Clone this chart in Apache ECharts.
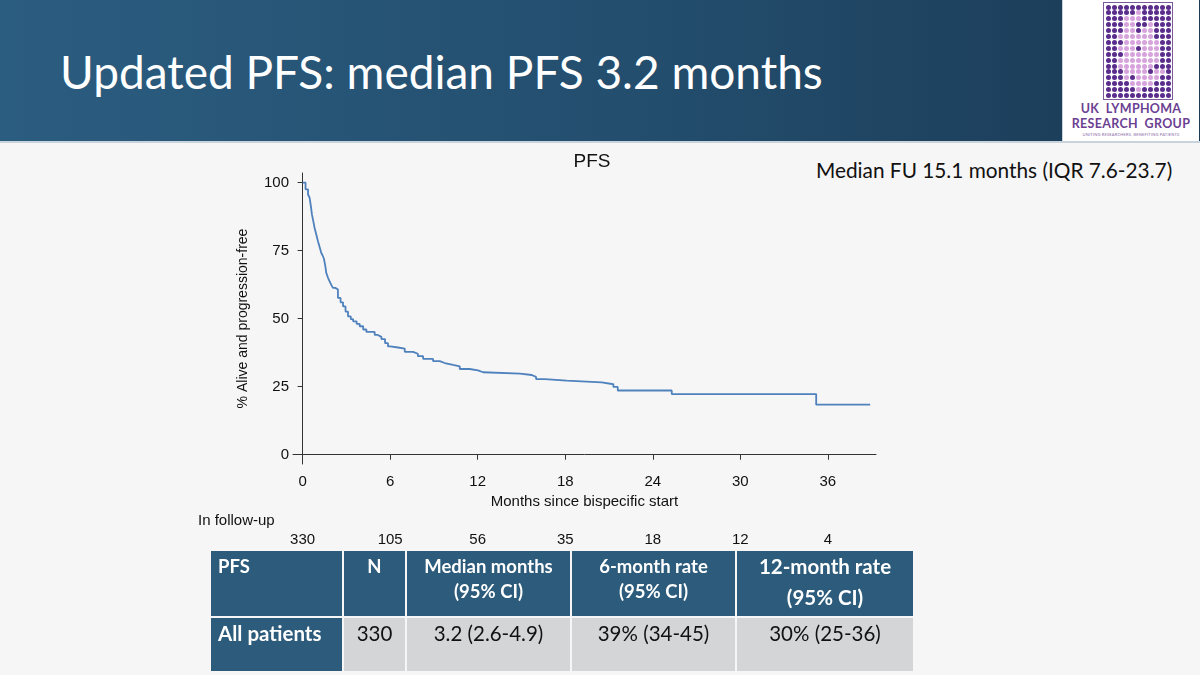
<!DOCTYPE html>
<html>
<head>
<meta charset="utf-8">
<script src="https://cdn.jsdelivr.net/npm/echarts@6/dist/echarts.min.js"></script>
<style>
  html, body { margin: 0; padding: 0; }
  body { width: 1200px; height: 675px; position: relative; overflow: hidden; background: #f6f6f6; font-family: Lato, "Open Sans", sans-serif; }
  #header { position: absolute; left: 0; top: 0; width: 1200px; height: 141px;
    background: linear-gradient(90deg, #2b5d80 0%, #234d6d 55%, #1a3a55 100%);
    border-bottom: 2px solid #c9d3db; }
  #header h1 { position: absolute; left: 60px; top: 43px; margin: 0; font-weight: 400; font-size: 46px; color: #fff; line-height: 58px; white-space: nowrap; }
  #logo { position: absolute; left: 1062px; top: 0; width: 136px; height: 141px; background: #fff; border-left: 1px solid #c9d3db; }
  #dots { position: absolute; left: 40px; top: 2px; width: 68px; height: 96px; border: 1px solid #7a5a9a; }
  #logo .t1, #logo .t2 { position: absolute; left: 0; width: 136px; text-align: center; color: #6b3f92; font-weight: 700; font-size: 12.5px; letter-spacing: 0.3px; }
  #logo .t1 { top: 101px; }
  #logo .t2 { top: 116px; }
  #logo .t3 { position: absolute; left: 0; top: 132px; width: 136px; text-align: center; color: #8a6aa8; font-size: 4px; letter-spacing: 0.2px; }
  #fu { position: absolute; left: 816px; top: 157px; font-size: 20.8px; color: #111; white-space: nowrap; }
  #chart { position: absolute; left: 0; top: 142px; width: 1200px; height: 410px; }
  #tbl { position: absolute; left: 209px; top: 549px; border-collapse: collapse; table-layout: fixed; width: 704px; }
  #tbl td { border: 2px solid #f6f6f6; padding: 0; overflow: hidden; white-space: nowrap; }
  #tbl tr.h td { background: #2c5b7b; color: #fff; font-weight: 700; font-size: 18.5px; height: 62px; vertical-align: top; text-align: center; line-height: 25px; padding-top: 3px; }
  #tbl tr.h td.big { font-size: 20.5px; line-height: 31px; padding-top: 0; }
  #tbl tr.d td { background: #d3d5d6; color: #111; font-size: 20.5px; height: 50px; vertical-align: top; text-align: center; padding-top: 3px; }
  #tbl tr.d td.first { background: #2c5b7b; color: #fff; font-weight: 700; }
  #tbl td.first { text-align: left !important; padding-left: 7px; }
</style>
</head>
<body>
<div id="header"><h1>Updated PFS: median PFS 3.2 months</h1></div>
<div id="logo">
  <div id="dots"></div>
  <div class="t1">UK&nbsp; LYMPHOMA</div>
  <div class="t2">RESEARCH&nbsp; GROUP</div>
  <div class="t3">UNITING RESEARCHERS, BENEFITING PATIENTS</div>
</div>
<div id="fu">Median FU 15.1 months (IQR 7.6-23.7)</div>
<div id="chart"></div>
<table id="tbl"></table>
<script>
// Kaplan-Meier PFS curve (months, % alive and progression-free)
var months = [0, 0.2, 0.37, 0.48, 0.56, 0.64, 0.73, 0.82, 0.94, 1.05, 1.17, 1.28, 1.37, 1.46, 1.55, 1.62,
  1.74, 1.85, 1.97, 2.08, 2.24, 2.42, 2.6, 2.77, 2.94, 3.11, 3.3, 3.46, 3.7, 3.91, 4.15, 4.37, 4.94,
  5.15, 5.4, 5.65, 5.85, 6.0, 6.54, 7.0, 7.57, 7.9, 8.26, 8.94, 9.4, 9.74, 10.31, 10.77, 11.45, 12.02,
  12.37, 14.9, 15.7, 16.0, 16.6, 18.1, 20.5, 21.3, 21.6, 25.3, 35.2, 38.9];
var pfs = [100, 97.5, 95.6, 94.4, 91.5, 88.2, 85.8, 83.3, 80.8, 78.4, 76.2, 74.1, 73.2, 72.0, 69.5, 66.8,
  65.0, 63.7, 62.3, 61.3, 60.7, 57.6, 56.0, 54.5, 52.6, 50.8, 49.8, 49.0, 48.1, 47.2, 46.0, 45.1, 44.0,
  43.3, 42.5, 41.0, 39.8, 39.4, 39.0, 37.8, 37.1, 36.2, 35.2, 34.4, 33.7, 33.0, 32.5, 31.5, 31.0, 30.3,
  29.8, 29.3, 28.6, 27.8, 27.2, 26.6, 25.9, 24.9, 23.6, 22.3, 18.4, 18.4];

var tickMonths = [0, 6, 12, 18, 24, 30, 36];
var atRisk = [330, 105, 56, 35, 18, 12, 4];
var yTicks = [0, 25, 50, 75, 100];

var tableHead = ['PFS', 'N', 'Median months<br>(95% CI)', '6-month rate<br>(95% CI)', '12-month rate<br>(95% CI)'];
var tableRow = ['All patients', '330', '3.2 (2.6-4.9)', '39% (34-45)', '30% (25-36)'];
var colWidths = [133, 63, 165, 165, 178];

// logo dot grid (decoration)
var dotRows = ['DDDDDDDDDDD', 'DDDDDLDDDDD', 'DDDLLLDDDDD', 'DDDLLDDLDDD', 'DDDLLDLLDDD', 'DDLLLLLLDDD',
  'DDDLLLLLLDD', 'DDLLLDLLLDD', 'DDDLLLLLLDD', 'DDLLLLLLLDD', 'DDLLLLLLDDD', 'DDDLLLLDLLD',
  'DDDLDLLLLDD', 'DDDDLLLLDDD', 'DDDDDLDDDDD', 'DDDDDDDDDDD'];
var dots = document.getElementById('dots');
dotRows.forEach(function (row, r) {
  for (var c = 0; c < row.length; c++) {
    var d = document.createElement('div');
    d.style.cssText = 'position:absolute;width:5px;height:5px;border-radius:50%;left:' + (1.5 + c * 6) +
      'px;top:' + (1.5 + r * 5.9) + 'px;background:' + (row[c] === 'D' ? '#5a2d8c' : '#d7a3dc');
    dots.appendChild(d);
  }
});

// table
var tbl = document.getElementById('tbl');
var h = '<colgroup>';
colWidths.forEach(function (w) { h += '<col style="width:' + w + 'px">'; });
h += '</colgroup><tr class="h">';
tableHead.forEach(function (t, i) {
  h += '<td' + (i === 0 ? ' class="first"' : (i === 4 ? ' class="big"' : '')) + '>' + t + '</td>';
});
h += '</tr><tr class="d">';
tableRow.forEach(function (t, i) {
  h += '<td' + (i === 0 ? ' class="first"' : '') + '>' + t + '</td>';
});
tbl.innerHTML = h + '</tr>';

var myChart = echarts.init(document.getElementById('chart'));
var font = 'Liberation Sans, Arial, sans-serif';
option = {
  animation: false,
  title: {
    text: 'PFS',
    left: 587,
    textAlign: 'center',
    top: 5,
    textStyle: { fontFamily: font, fontWeight: 'normal', fontSize: 19, color: '#111' }
  },
  graphic: [{
    type: 'text',
    left: 198,
    top: 371,
    style: { text: 'In follow-up', fontFamily: font, fontSize: 15, fill: '#111' }
  }],
  grid: { left: 293, right: 324, top: 31, bottom: 88 },
  xAxis: [{
    type: 'value',
    min: -0.66,
    max: 39.3,
    axisLine: { show: true, lineStyle: { color: '#333', width: 1 } },
    axisTick: { show: true, customValues: tickMonths, length: 5, lineStyle: { color: '#333' } },
    axisLabel: { customValues: tickMonths, fontFamily: font, fontSize: 15, color: '#111', margin: 10 },
    splitLine: { show: false },
    name: 'Months since bispecific start',
    nameLocation: 'middle',
    nameGap: 29,
    nameTextStyle: { fontFamily: font, fontSize: 15, color: '#111' }
  }, {
    // numbers still in follow-up, under each tick
    type: 'value',
    position: 'bottom',
    offset: 60,
    min: -0.66,
    max: 39.3,
    axisLine: { show: false },
    axisTick: { show: false },
    axisLabel: {
      customValues: tickMonths,
      fontFamily: font, fontSize: 15, color: '#111',
      formatter: function (v) { return atRisk[tickMonths.indexOf(v)]; }
    },
    splitLine: { show: false }
  }],
  yAxis: {
    type: 'value',
    min: -3.4,
    max: 103.5,
    axisLine: { show: true, lineStyle: { color: '#333', width: 1 } },
    axisTick: { show: true, customValues: yTicks, length: 5, lineStyle: { color: '#333' } },
    axisLabel: { customValues: yTicks, fontFamily: font, fontSize: 15, color: '#111', margin: 4 },
    splitLine: { show: false },
    name: '% Alive and progression-free',
    nameLocation: 'middle',
    nameGap: 43,
    nameTextStyle: { fontFamily: font, fontSize: 14, color: '#111' }
  },
  series: [{
    type: 'line',
    step: 'end',
    showSymbol: false,
    xAxisIndex: 0,
    lineStyle: { color: '#4f81bd', width: 1.8 },
    data: months.map(function (m, i) { return [m, pfs[i]]; })
  }]
};
myChart.setOption(option);
</script>
</body>
</html>
